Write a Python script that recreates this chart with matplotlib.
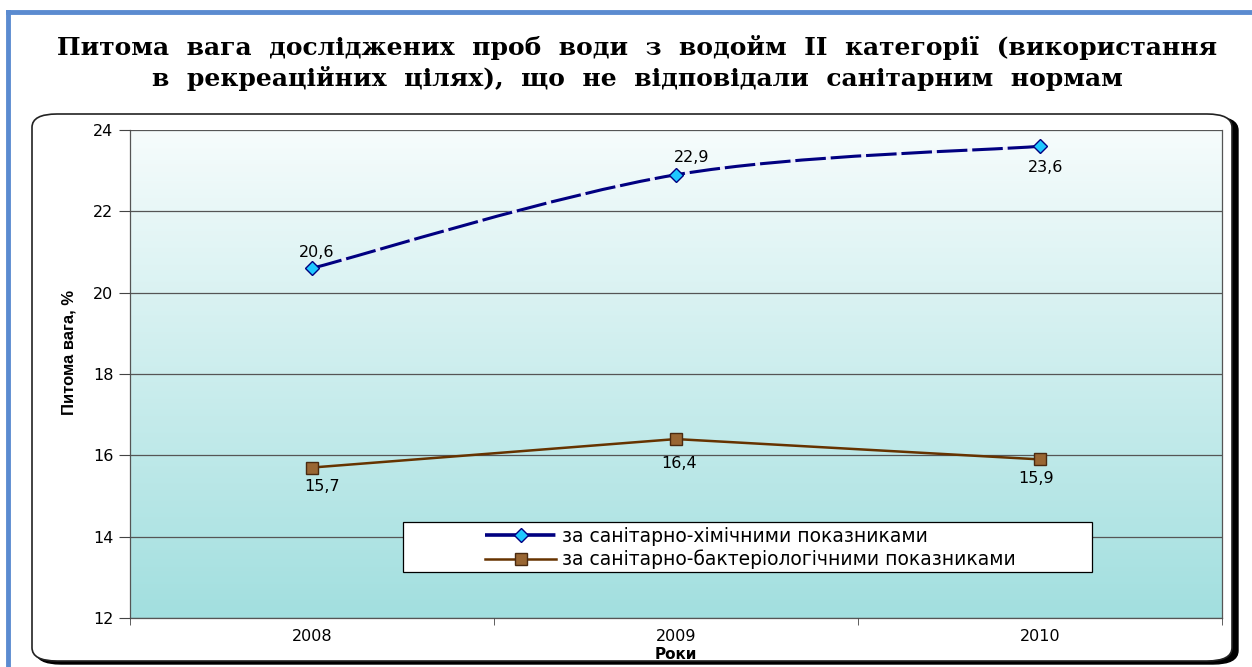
import matplotlib
matplotlib.use("Agg")
import matplotlib.pyplot as plt
import numpy as np
from matplotlib.path import Path
from matplotlib.patches import PathPatch, FancyBboxPatch, Rectangle
from matplotlib.lines import Line2D
from matplotlib.colors import LinearSegmentedColormap

years = ["2008", "2009", "2010"]
chem = [20.6, 22.9, 23.6]
bact = [15.7, 16.4, 15.9]
chem_labels = ["20,6", "22,9", "23,6"]
bact_labels = ["15,7", "16,4", "15,9"]
legend_labels = ["за санітарно-хімічними показниками",
                 "за санітарно-бактеріологічними показниками"]
title = ("Питома  вага  досліджених  проб  води  з  водойм  ІІ  категорії  (використання\n"
         "в  рекреаційних  цілях),  що  не  відповідали  санітарним  нормам")

W, H = 1252, 667
fig = plt.figure(figsize=(W/100, H/100), dpi=100)
fig.patch.set_facecolor("white")
SANS = "DejaVu Sans"

# page-like blue border lines
fig.add_artist(Line2D([8/W, 8/W], [0, 1-12/H], color="#5b8bd0", lw=3.5, transform=fig.transFigure))
fig.add_artist(Line2D([8/W, 1], [1-12/H, 1-12/H], color="#5b8bd0", lw=3.5, transform=fig.transFigure))

# rounded chart frame with shadow
shadow = FancyBboxPatch((36/W, 3/H), 1202/W, 547/H, boxstyle="round,pad=0,rounding_size=0.02",
                        transform=fig.transFigure, facecolor="black", edgecolor="black", lw=1,
                        zorder=-3)
fig.add_artist(shadow)
frame = FancyBboxPatch((32/W, 6/H), 1200/W, 547/H, boxstyle="round,pad=0,rounding_size=0.02",
                       transform=fig.transFigure, facecolor="white", edgecolor="#222222", lw=1.2,
                       zorder=-2)
fig.add_artist(frame)

fig.text(637/W, 1-63/H, title, ha="center", va="center", fontsize=18,
         family="DejaVu Serif", fontweight="bold", linespacing=1.3)

ax = fig.add_axes([130/W, 1-618/H, 1092/W, 488/H])
ax.set_zorder(1)
ax.set_xlim(-0.5, 2.5)
ax.set_ylim(12, 24)

# gradient background
grad = np.linspace(0, 1, 256).reshape(-1, 1)
cmap = LinearSegmentedColormap.from_list("bg", ["#a2dfdf", "#f6fcfc"])
ax.imshow(grad, extent=[0, 1, 0, 1], transform=ax.transAxes, cmap=cmap, aspect="auto",
          origin="lower", zorder=0)

ax.set_yticks(np.arange(12, 25, 2))
ax.set_yticklabels([str(v) for v in range(12, 25, 2)], fontsize=11.5, family=SANS)
ax.yaxis.grid(True, color="#555555", lw=0.9)
ax.set_axisbelow(False)
ax.grid(False, axis="x")
xs = np.arange(len(years))
ax.set_xticks(xs)
ax.set_xticklabels(years, fontsize=11.5, family=SANS)
ax.tick_params(axis="x", length=0, pad=8)
ax.set_xticks([-0.5, 0.5, 1.5, 2.5], minor=True)
ax.tick_params(axis="x", which="minor", length=5, direction="out", color="#444444")
ax.tick_params(axis="y", length=8, direction="out", color="#444444", pad=4)
for s in ax.spines.values():
    s.set_color("#555555")
    s.set_linewidth(0.9)
ax.spines["top"].set_visible(False)

# smoothed line for chemical series (Catmull-Rom -> bezier)
pts = np.column_stack([xs, chem]).astype(float)
verts = [tuple(pts[0])]
codes = [Path.MOVETO]
n = len(pts)
for i in range(n - 1):
    p0 = pts[i - 1] if i > 0 else pts[i]
    p1, p2 = pts[i], pts[i + 1]
    p3 = pts[i + 2] if i + 2 < n else pts[i + 1]
    c1 = p1 + (p2 - p0) / 6
    c2 = p2 - (p3 - p1) / 6
    verts += [tuple(c1), tuple(c2), tuple(p2)]
    codes += [Path.CURVE4] * 3
curve = Path(verts, codes)
ax.add_patch(PathPatch(curve, facecolor="none", edgecolor="#ececfa", lw=2.2, zorder=3))
ax.add_patch(PathPatch(curve, facecolor="none", edgecolor="#000080", lw=2.2,
                       linestyle=(0, (10, 1.6)), zorder=3))
ax.plot(xs, chem, linestyle="none", marker="D", ms=7, mfc="#1ec8ff", mec="#000080", mew=1, zorder=4)

ax.plot(xs, bact, color="#663300", lw=1.8, marker="s", ms=8, mfc="#996633", mec="#4a2a10",
        mew=1, zorder=4)

chem_off = [(3, 6), (11, 7), (4, -21)]
bact_off = [(7, -19), (2, -23), (-3, -19)]
for x, y, t, o in zip(xs, chem, chem_labels, chem_off):
    ax.annotate(t, (x, y), xytext=o, textcoords="offset points", ha="center", va="bottom",
                fontsize=11.5, family=SANS, zorder=5)
for x, y, t, o in zip(xs, bact, bact_labels, bact_off):
    ax.annotate(t, (x, y), xytext=o, textcoords="offset points", ha="center", va="bottom",
                fontsize=11.5, family=SANS, zorder=5)

ax.set_ylabel("Питома вага, %", fontsize=12, fontweight="bold",
              family=["Liberation Sans Narrow", "DejaVu Sans Condensed", "Liberation Sans"])
ax.yaxis.set_label_coords((77-130)/1092, (618-352)/488)
ax.set_xlabel("Роки", fontsize=11, fontweight="bold", family=SANS, labelpad=2)

# legend: box + entries
ax.add_patch(Rectangle(((403-130)/1092, (618-572)/488), (1092-403)/1092, 50/488,
                       transform=ax.transAxes, facecolor="white", edgecolor="black", lw=0.9,
                       zorder=6))
h1 = Line2D([], [], color="#000080", lw=2.6, linestyle=(0, (9, 1.5)), marker="D", ms=7,
            mfc="#1ec8ff", mec="#000080")
h2 = Line2D([], [], color="#663300", lw=1.8, marker="s", ms=8, mfc="#996633", mec="#4a2a10")
leg = ax.legend([h1, h2], legend_labels, loc="center left",
                bbox_to_anchor=((485-130)/1092, (618-548)/488),
                frameon=False, prop={"family": SANS, "size": 13.5},
                handlelength=3.8, labelspacing=0.2, handletextpad=0.3, borderpad=0,
                borderaxespad=0)
leg.set_zorder(7)

fig.savefig("out.png", dpi=100)
